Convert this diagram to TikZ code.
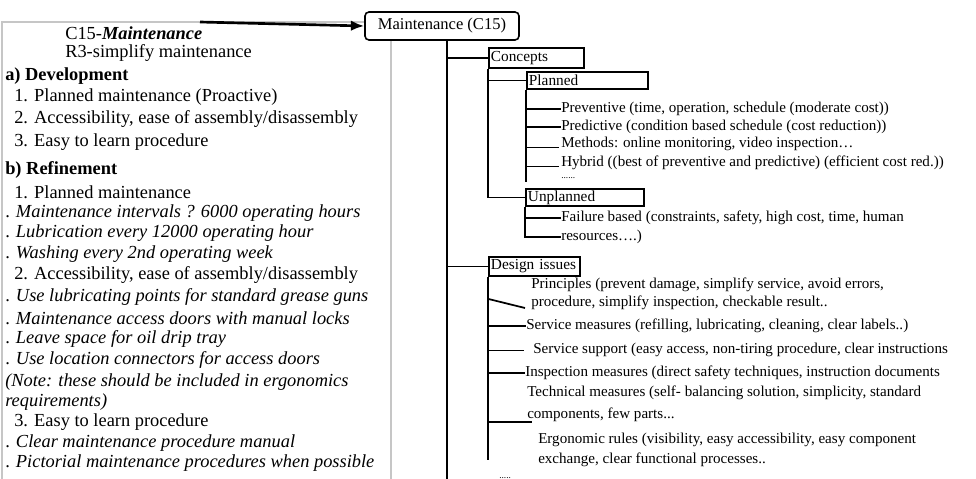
\documentclass[tikz,border=0pt]{standalone}
\usepackage{fontspec}
\setmainfont{Liberation Serif}
\usetikzlibrary{arrows.meta}

\begin{document}
\begin{tikzpicture}[x=0.75pt, y=-0.75pt,
    every node/.style={inner sep=0pt},
    lefttxt/.style={anchor=west, font=\fontsize{13.8}{16}\selectfont},
    ritem/.style={anchor=west, font=\fontsize{11.3}{13}\selectfont},
    catbox/.style={draw, line width=1.4pt, anchor=north west, inner xsep=1.5pt, align=left, font=\fontsize{11.5}{13}\selectfont},
    link/.style={line width=1.3pt},
    thinlink/.style={line width=0.6pt}]
  \useasboundingbox (0,0) rectangle (976,479);
  \draw[gray!45, line width=0.8pt] (2,22) rectangle (391,500);
  \node[lefttxt] (ttl) at (65,33) {C15-\textbf{\textit{Maintenance}}};
  \node[lefttxt] (rq) at (65,53) {R3-simplify maintenance};
  \node[lefttxt] (deva) at (5,76) {\textbf{a) Development}};
  \node[lefttxt] (deva1) at (14,97) {1. Planned maintenance (Proactive)};
  \node[lefttxt] (deva2) at (14,119) {2. Accessibility, ease of assembly/disassembly};
  \node[lefttxt] (deva3) at (14,142) {3. Easy to learn procedure};
  \node[lefttxt] (refb) at (5,170) {\textbf{b) Refinement}};
  \node[lefttxt] (refb1) at (14,192) {1. Planned maintenance};
  \node[lefttxt] (refb11) at (5,213) {. \textit{Maintenance intervals ? 6000 operating hours}};
  \node[lefttxt] (refb12) at (5,233) {. \textit{Lubrication every 12000 operating hour}};
  \node[lefttxt] (refb13) at (5,254) {. \textit{Washing every 2nd operating week}};
  \node[lefttxt] (refb2) at (14,275) {2. Accessibility, ease of assembly/disassembly};
  \node[lefttxt] (refb21) at (5,297) {. \textit{Use lubricating points for standard grease guns}};
  \node[lefttxt] (refb22) at (5,318) {. \textit{Maintenance access doors with manual locks}};
  \node[lefttxt] (refb23) at (5,339) {. \textit{Leave space for oil drip tray}};
  \node[lefttxt] (refb24) at (5,360) {. \textit{Use location connectors for access doors}};
  \node[lefttxt] (note1) at (5,382) {\textit{(Note: these should be included in ergonomics}};
  \node[lefttxt] (note2) at (5,402) {\textit{requirements)}};
  \node[lefttxt] (refb3) at (14,422) {3. Easy to learn procedure};
  \node[lefttxt] (refb31) at (5,443) {. \textit{Clear maintenance procedure manual}};
  \node[lefttxt] (refb32) at (5,463) {. \textit{Pictorial maintenance procedures when possible}};
  \node[draw, rounded corners=3pt, line width=1.2pt, fill=white, minimum width=115.5pt, minimum height=21pt, font=\fontsize{12.4}{14}\selectfont] (mnt) at (442,26) {Maintenance (C15)};
  \coordinate (src) at (200,22);
  \draw[line width=2pt, -{Latex[length=10pt,width=8pt]}] (src) -- (mnt.west);
  \coordinate (trunk) at (447,40);
  \coordinate (trunkend) at (447,485);
  \draw[link] (trunk) -- (trunkend);
  \node[catbox, text width=68.25pt, minimum height=15pt] (concepts) at (488,47) {Concepts};
  \node[catbox, text width=87.75pt, minimum height=12.75pt] (planned) at (526,71) {Planned};
  \node[catbox, text width=85.5pt, minimum height=12.75pt] (unplanned) at (525,188) {Unplanned};
  \node[catbox, text width=65.25pt, minimum height=14.25pt] (design) at (488,256) {Design issues};
  \draw[link] (trunk |- concepts.west) -- (concepts.west);
  \draw[link] (concepts.south west) |- (unplanned.west);
  \draw[link] (concepts.south west |- planned.west) -- (planned.west);
  \draw[link] (trunk |- design.west) -- (design.west);
  \node[ritem] (prev) at (561,109) {Preventive (time, operation, schedule (moderate cost))};
  \node[ritem] (pred) at (561,127) {Predictive (condition based schedule (cost reduction))};
  \node[ritem, anchor=base west] (meth) at (561,147) {Methods: online monitoring, video inspection…};
  \node[ritem, anchor=base west] (hyb) at (561,166) {Hybrid ((best of preventive and predictive) (efficient cost red.))};
  \node[ritem, font=\fontsize{7}{8}\selectfont] (pdots) at (561,178) {......};
  \coordinate (plend) at (526,182);
  \draw[link] (planned.south west) -- (plend);
  \draw[link] (planned.south west |- prev.west) -- (prev.west);
  \draw[link] (planned.south west |- pred.west) -- (pred.west);
  \draw[thinlink] (planned.south west |- meth.base west) -- ([xshift=-1.5pt]meth.base west);
  \draw[thinlink] (planned.south west |- hyb.base west) -- ([xshift=-1.5pt]hyb.base west);
  \node[ritem] (fail) at (561,218) {Failure based (constraints, safety, high cost, time, human};
  \node[ritem] (res) at (561,237) {resources….)};
  \draw[link] (unplanned.south west) |- (res.west);
  \draw[link] (unplanned.south west |- fail.west) -- (fail.west);
  \node[ritem] (prin) at (531,285) {Principles (prevent damage, simplify service, avoid errors,};
  \node[ritem] (prin2) at (531,303) {procedure, simplify inspection, checkable result..};
  \node[ritem] (smeas) at (526,326) {Service measures (refilling, lubricating, cleaning, clear labels..)};
  \node[ritem] (ssup) at (533,350) {Service support (easy access, non-tiring procedure, clear instructions};
  \node[ritem] (insp) at (525,373) {Inspection measures (direct safety techniques, instruction documents};
  \node[ritem] (tech) at (527,393) {Technical measures (self- balancing solution, simplicity, standard};
  \node[ritem] (tech2) at (527,415) {components, few parts...};
  \node[ritem] (ergo) at (538,440) {Ergonomic rules (visibility, easy accessibility, easy component};
  \node[ritem] (ergo2) at (538,460) {exchange, clear functional processes..};
  \node[ritem, font=\fontsize{7}{8}\selectfont] (ddots) at (499,478) {.....};
  \coordinate (dend) at (488,460);
  \coordinate (pj) at ([yshift=-5pt]prin.south west);
  \draw[link] (design.south west) -- (dend);
  \draw[link] (design.south west |- pj) -- ([shift={(-6,5)}]prin2.west);
  \draw[link] (design.south west |- smeas.west) -- (smeas.west);
  \draw[thinlink] (design.south west |- ssup.west) -- ([xshift=-6.75pt]ssup.west);
  \draw[link] (design.south west |- insp.west) -- (insp.west);
  \draw[link] (design.south west |- tech2.south) -- ([xshift=3.75pt]tech2.south west);
\end{tikzpicture}
\end{document}
